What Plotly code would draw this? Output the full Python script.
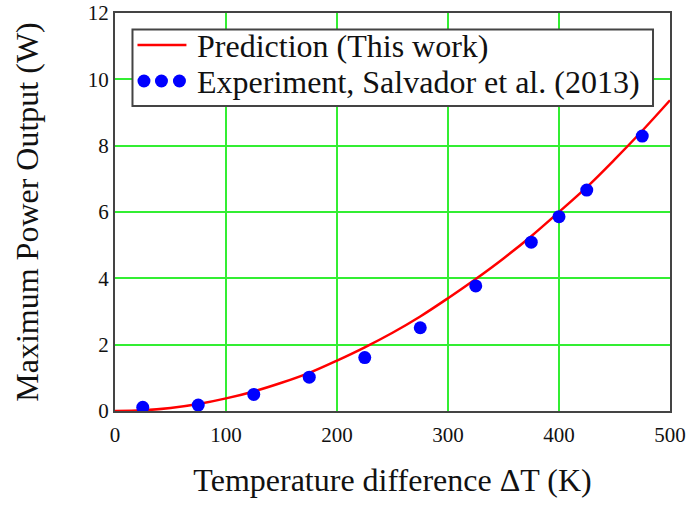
import plotly.graph_objects as go

# Prediction curve
dt_model = [0, 25, 50, 75, 100, 125, 150, 175, 200, 225, 250, 275, 300,
            325, 350, 375, 400, 425, 450, 475, 500]
p_model = [0.0, 0.02, 0.09, 0.21, 0.38, 0.59, 0.85, 1.15, 1.52, 1.92, 2.36,
           2.85, 3.40, 3.98, 4.60, 5.27, 6.00, 6.75, 7.58, 8.45, 9.37]

# Experiment, Salvador et al. (2013)
dt_exp = [25, 75, 125, 175, 225, 275, 325, 375, 400, 425, 475]
p_exp = [0.11, 0.18, 0.50, 1.02, 1.61, 2.51, 3.77, 5.09, 5.86, 6.66, 8.29]

FONT = "Liberation Serif, Times New Roman, serif"
GRID = "#33ee33"
FRAME = "#444444"

fig = go.Figure()

fig.add_trace(go.Scatter(
    x=dt_model, y=p_model, mode="lines",
    line=dict(color="#ff0000", width=2.5, shape="spline"),
    name="Prediction (This work)", showlegend=False,
))
fig.add_trace(go.Scatter(
    x=dt_exp, y=p_exp, mode="markers",
    marker=dict(color="#0000ff", size=13),
    name="Experiment, Salvador et al. (2013)", showlegend=False,
))

# hand-drawn legend box (paper coords) to get the three-dot key
L, R, B, T = 114.5, 670.0, 411.0, 13.0


def px(x):
    return (x - L) / (R - L)


def py(y):
    return (B - y) / (B - T)


shapes = [
    dict(type="rect", xref="paper", yref="paper",
         x0=px(132), x1=px(653), y0=py(106), y1=py(29.5),
         line=dict(color=FRAME, width=2), fillcolor="white", layer="above"),
    dict(type="line", xref="paper", yref="paper",
         x0=px(137), x1=px(186), y0=py(45), y1=py(45),
         line=dict(color="#ff0000", width=2.5), layer="above"),
]
for cx in (143.5, 161, 179):
    shapes.append(dict(type="circle", xref="paper", yref="paper",
                       x0=px(cx - 6.5), x1=px(cx + 6.5),
                       y0=py(81 + 6.5), y1=py(81 - 6.5),
                       line=dict(width=0), fillcolor="#0000ff", layer="above"))

annotations = [
    dict(text="Prediction (This work)", xref="paper", yref="paper",
         x=px(195), y=py(46), xanchor="left", yanchor="middle",
         showarrow=False, font=dict(family=FONT, size=32, color="#111")),
    dict(text="Experiment, Salvador et al. (2013)", xref="paper", yref="paper",
         x=px(195), y=py(82), xanchor="left", yanchor="middle",
         showarrow=False, font=dict(family=FONT, size=32, color="#111")),
]

fig.update_layout(
    width=693, height=506,
    margin=dict(l=115, r=23, t=13, b=95),
    paper_bgcolor="white", plot_bgcolor="white",
    font=dict(family=FONT, size=21, color="#111"),
    shapes=shapes, annotations=annotations,
    showlegend=False,
)
fig.update_xaxes(
    range=[0, 500], tick0=0, dtick=100,
    showgrid=True, gridcolor=GRID, gridwidth=2,
    showline=True, linecolor=FRAME, linewidth=2, mirror=True,
    zeroline=False, ticks="", ticklabelstandoff=4, automargin=False,
    ticklabeloverflow="allow",
    title=dict(text="Temperature difference ΔT (K)",
               font=dict(size=32), standoff=22),
)
fig.update_yaxes(
    range=[0, 12], tick0=0, dtick=2,
    showgrid=True, gridcolor=GRID, gridwidth=2,
    showline=True, linecolor=FRAME, linewidth=2, mirror=True,
    zeroline=False, ticks="", ticklabelstandoff=0, automargin=False,
    ticklabeloverflow="allow",
    title=dict(text="Maximum Power Output (W)",
               font=dict(size=32), standoff=40),
)

# drop the browser's default 8px body margin so the figure fills the window
fig.write_html("out.html", config={"displayModeBar": False},
               post_script="document.body.style.margin = '0';")
